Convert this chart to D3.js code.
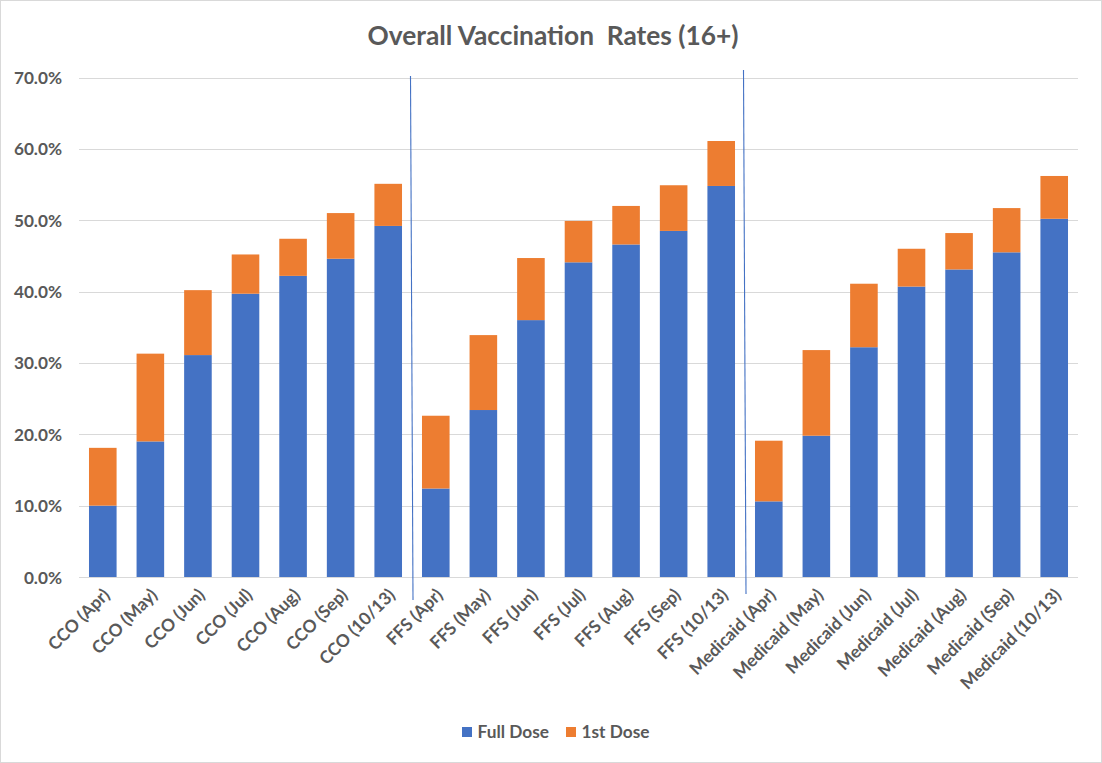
<!DOCTYPE html>
<html><head><meta charset="utf-8">
<script src="https://cdn.jsdelivr.net/npm/d3@7"></script>
<style>
html,body{margin:0;padding:0;background:#fff;}
svg{display:block;font-family:Lato,"Open Sans",sans-serif;}
</style></head><body>
<svg id="c" width="1102" height="763"></svg>
<script>
const categories = ["CCO (Apr)","CCO (May)","CCO (Jun)","CCO (Jul)","CCO (Aug)","CCO (Sep)","CCO (10/13)",
  "FFS (Apr)","FFS (May)","FFS (Jun)","FFS (Jul)","FFS (Aug)","FFS (Sep)","FFS (10/13)",
  "Medicaid (Apr)","Medicaid (May)","Medicaid (Jun)","Medicaid (Jul)","Medicaid (Aug)","Medicaid (Sep)","Medicaid (10/13)"];
const fullDose = [0.100,0.190,0.311,0.397,0.422,0.446,0.492,
  0.124,0.234,0.360,0.441,0.466,0.485,0.548,
  0.106,0.198,0.322,0.407,0.431,0.455,0.502];
const firstDose = [0.081,0.123,0.091,0.055,0.052,0.064,0.059,
  0.102,0.105,0.087,0.058,0.054,0.064,0.063,
  0.085,0.120,0.089,0.053,0.051,0.062,0.060];
const yTicks = [0,0.1,0.2,0.3,0.4,0.5,0.6,0.7];
const seriesNames = ["Full Dose","1st Dose"];
const colors = ["#4472C4","#ED7D31"];
const dividerAfter = ["CCO (10/13)","FFS (10/13)"];

(function(){
const svg = d3.select("#c");
const W = 1102, H = 763;
const mLeft = 79, mRight = 1078, mTop = 77.5, mBottom = 577;
const textColor = "#595959";

svg.append("rect").attr("x",0.5).attr("y",0.5).attr("width",W-1).attr("height",H-1)
  .attr("fill","#fff").attr("stroke","#d9d9d9");

const x = d3.scaleBand().domain(categories).range([mLeft,mRight]).paddingInner(0.42).paddingOuter(0.21);
const y = d3.scaleLinear().domain([0,0.7]).range([mBottom,mTop]);

svg.append("g").selectAll("line").data(yTicks).join("line")
  .attr("x1",mLeft).attr("x2",mRight)
  .attr("y1",d=>Math.round(y(d))+0.5).attr("y2",d=>Math.round(y(d))+0.5)
  .attr("stroke","#d9d9d9").attr("stroke-width",1);

svg.append("g").selectAll("text").data(yTicks).join("text")
  .attr("x",62).attr("y",d=>y(d)+6.5)
  .attr("text-anchor","end").attr("fill",textColor)
  .attr("font-size",17.2).attr("font-weight","bold")
  .text(d3.format(".1%"));

const rows = categories.map((c,i)=>({cat:c,"Full Dose":fullDose[i],"1st Dose":firstDose[i]}));
const stack = d3.stack().keys(seriesNames)(rows);
svg.append("g").selectAll("g").data(stack).join("g")
  .attr("fill",(d,i)=>colors[i])
  .selectAll("rect").data(d=>d).join("rect")
  .attr("x",d=>x(d.data.cat)).attr("width",x.bandwidth())
  .attr("y",d=>y(d[1])).attr("height",d=>y(d[0])-y(d[1]));

const step = x.step();
dividerAfter.forEach((c,i)=>{
  const bx = x(c)+x.bandwidth()+(step-x.bandwidth())/2;
  svg.append("line")
    .attr("x1",bx-1.5).attr("y1",i===0?76:70)
    .attr("x2",bx+1).attr("y2",i===0?600:594)
    .attr("stroke","#4472C4").attr("stroke-width",1.1);
});

svg.append("g").selectAll("text").data(categories).join("text")
  .attr("transform",d=>`translate(${x(d)+x.bandwidth()/2+8},${mBottom+19}) rotate(-45)`)
  .attr("text-anchor","end").attr("fill",textColor)
  .attr("font-size",17.4).attr("font-weight","bold")
  .text(d=>d);

svg.append("text").attr("x",553).attr("y",45).attr("text-anchor","middle")
  .attr("fill",textColor).attr("font-size",26.3).attr("font-weight","bold")
  .style("white-space","pre")
  .text("Overall Vaccination  Rates (16+)");

const leg = [{n:"Full Dose",x:462},{n:"1st Dose",x:566}];
leg.forEach((l,i)=>{
  svg.append("rect").attr("x",l.x).attr("y",727).attr("width",10).attr("height",10).attr("fill",colors[i]);
  svg.append("text").attr("x",l.x+15.5).attr("y",738).attr("fill",textColor)
    .attr("font-size",17.3).attr("font-weight","bold").text(l.n);
});
})();
</script>
</body></html>
